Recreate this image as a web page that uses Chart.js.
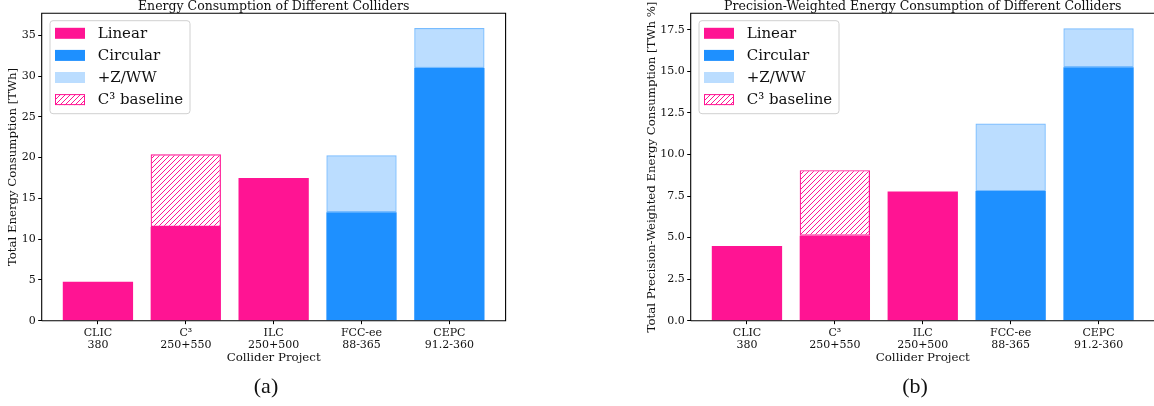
<!DOCTYPE html>
<html>
<head>
<meta charset="utf-8">
<script src="https://cdn.jsdelivr.net/npm/chart.js@4.4.0/dist/chart.umd.min.js"></script>
<style>
  body { margin: 0; background: #fff; width: 1154px; height: 406px; overflow: hidden; position: relative; }
  canvas { position: absolute; top: 0; }
</style>
</head>
<body>
<canvas id="chartA" width="530" height="406" style="left:0px"></canvas>
<canvas id="chartB" width="580" height="406" style="left:580px"></canvas>
<script>
// categories (two-line tick labels)
const categories = [['CLIC', '380'], ['C\u00b3', '250+550'], ['ILC', '250+500'], ['FCC-ee', '88-365'], ['CEPC', '91.2-360']];
const seriesNames = ['Linear', 'Circular', '+Z/WW', 'C\u00b3 baseline'];

// (a) total energy consumption [TWh], stacked segment heights
const energyLinear   = [4.77, 11.5, 17.5, null, null];
const energyCircular = [null, null, null, 13.3, 31.0];
const energyZWW      = [null, null, null, 7.0, 4.9];
const energyC3Base   = [null, 8.9, null, null, null];
const energyTicks    = [0, 5, 10, 15, 20, 25, 30, 35];

// (b) precision-weighted energy consumption [TWh %]
const precLinear   = [4.49, 5.11, 7.78, null, null];
const precCircular = [null, null, null, 7.8, 15.26];
const precZWW      = [null, null, null, 4.07, 2.34];
const precC3Base   = [null, 3.95, null, null, null];
const precTicks    = [0, 2.5, 5, 7.5, 10, 12.5, 15, 17.5];

const PINK = '#ff1493';
const BLUE = '#1e90ff';
const LIGHT = 'rgba(30,144,255,0.3)';
const LIGHT_EDGE = 'rgba(30,144,255,0.6)';
const FONT = '"DejaVu Serif"';

// hatch pattern "///"
function hatch() {
  const c = document.createElement('canvas');
  c.width = 5; c.height = 5;
  const g = c.getContext('2d');
  g.strokeStyle = PINK;
  g.lineWidth = 1;
  g.beginPath();
  g.moveTo(-1, 6); g.lineTo(6, -1);
  g.moveTo(-1, 1); g.lineTo(1, -1);
  g.moveTo(4, 6); g.lineTo(6, 4);
  g.stroke();
  return g.createPattern(c, 'repeat');
}
const hatchFill = hatch();

function pts(arr) {
  const out = [];
  arr.forEach((v, i) => { if (v !== null) out.push({ x: i, y: v }); });
  return out;
}

// spines, titles, caption, legend
const decor = {
  id: 'decor',
  afterDraw(chart, args, o) {
    const ctx = chart.ctx, a = chart.chartArea;
    ctx.save();
    ctx.strokeStyle = '#000';
    ctx.lineWidth = 1.1;
    ctx.beginPath();
    ctx.moveTo(a.left, a.bottom); ctx.lineTo(a.left, a.top);
    ctx.lineTo(a.right, a.top); ctx.lineTo(a.right, a.bottom);
    ctx.lineTo(a.left, a.bottom);
    ctx.stroke();

    ctx.fillStyle = '#111';
    ctx.textAlign = 'center';
    ctx.textBaseline = 'alphabetic';
    ctx.font = '12.5px ' + FONT;
    ctx.fillText(o.title, (a.left + a.right) / 2, 9.5);

    ctx.textBaseline = 'middle';
    ctx.font = '11.8px ' + FONT;
    ctx.fillText('Collider Project', (a.left + a.right) / 2, 357.5);

    ctx.save();
    ctx.translate(o.yTitleX, (a.top + a.bottom) / 2);
    ctx.rotate(-Math.PI / 2);
    ctx.font = '11.7px ' + FONT;
    ctx.fillText(o.yTitle, 0, 0);
    ctx.restore();

    ctx.font = '22px "Liberation Serif"';
    ctx.fillText(o.caption, o.captionX, 387);

    // legend
    const bx = a.left + 8.3, by = a.top + 7.4, bw = 140, bh = 93;
    ctx.fillStyle = 'rgba(255,255,255,0.85)';
    ctx.strokeStyle = '#d0d0d0';
    ctx.lineWidth = 1;
    ctx.beginPath();
    ctx.roundRect(bx, by, bw, bh, 3);
    ctx.fill(); ctx.stroke();
    ctx.font = '15px ' + FONT;
    ctx.textAlign = 'left';
    chart.data.datasets.forEach((ds, i) => {
      const cy = by + 12.6 + i * 22.1;
      ctx.fillStyle = ds.backgroundColor;
      ctx.fillRect(bx + 5, cy - 5.5, 30, 11);
      if (ds.legendEdge) {
        ctx.strokeStyle = ds.legendEdge;
        ctx.strokeRect(bx + 5.5, cy - 5, 29, 10);
      }
      ctx.fillStyle = '#111';
      ctx.fillText(ds.label, bx + 47.7, cy + 0.5);
    });
    ctx.restore();
  }
};

function makeChart(id, cfg) {
  const datasets = [
    { label: seriesNames[0], data: pts(cfg.linear), backgroundColor: PINK, borderWidth: 0 },
    { label: seriesNames[1], data: pts(cfg.circular), backgroundColor: BLUE, borderWidth: 0 },
    { label: seriesNames[2], data: pts(cfg.zww), backgroundColor: LIGHT, borderColor: LIGHT_EDGE, borderWidth: 1.2, borderSkipped: false },
    { label: seriesNames[3], data: pts(cfg.c3), backgroundColor: hatchFill, borderColor: PINK, borderWidth: 1.2, borderSkipped: false, legendEdge: PINK }
  ];
  return new Chart(document.getElementById(id), {
    type: 'bar',
    data: { datasets: datasets },
    options: {
      responsive: false,
      animation: false,
      devicePixelRatio: 1,
      barPercentage: 0.8,
      categoryPercentage: 1,
      layout: { padding: { top: 13.3, right: cfg.padRight, left: 0, bottom: 0 } },
      plugins: {
        legend: { display: false },
        tooltip: { enabled: false },
        decor: { title: cfg.title, yTitle: cfg.yTitle, yTitleX: cfg.yTitleX, caption: cfg.caption, captionX: cfg.captionX }
      },
      scales: {
        x: {
          type: 'linear', min: -0.64, max: 4.64, bounds: 'data', stacked: true, offset: false,
          afterBuildTicks: s => { s.ticks = categories.map((c, i) => ({ value: i })); },
          afterFit: s => { s.height = 85.3; },
          ticks: {
            callback: v => categories[v], autoSkip: false, maxRotation: 0, padding: 3,
            color: '#111', font: { family: 'DejaVu Serif', size: 11, lineHeight: 1.06 }
          },
          grid: { offset: false, drawOnChartArea: false, drawTicks: true, tickLength: 3.5, color: '#000', lineWidth: 1 },
          border: { display: false }
        },
        y: {
          type: 'linear', min: 0, max: cfg.yMax, bounds: 'data', stacked: true,
          afterBuildTicks: s => { s.ticks = cfg.ticks.map(v => ({ value: v })); },
          afterFit: s => { s.width = cfg.yWidth; },
          ticks: {
            callback: cfg.fmt, padding: 2.5,
            color: '#111', font: { family: 'DejaVu Serif', size: 11 }
          },
          grid: { drawOnChartArea: false, drawTicks: true, tickLength: 3.5, color: '#000', lineWidth: 1 },
          border: { display: false }
        }
      }
    },
    plugins: [decor]
  });
}

makeChart('chartA', {
  linear: energyLinear, circular: energyCircular, zww: energyZWW, c3: energyC3Base,
  ticks: energyTicks, yMax: 37.7, fmt: v => String(v),
  yWidth: 41.7, padRight: 24.4,
  title: 'Energy Consumption of Different Colliders',
  yTitle: 'Total Energy Consumption [TWh]', yTitleX: 13,
  caption: '(a)', captionX: 266
});

makeChart('chartB', {
  linear: precLinear, circular: precCircular, zww: precZWW, c3: precC3Base,
  ticks: precTicks, yMax: 18.5, fmt: v => v.toFixed(1),
  yWidth: 110.7, padRight: 5.2,
  title: 'Precision-Weighted Energy Consumption of Different Colliders',
  yTitle: 'Total Precision-Weighted Energy Consumption [TWh %]', yTitleX: 72,
  caption: '(b)', captionX: 335
});
</script>
</body>
</html>
